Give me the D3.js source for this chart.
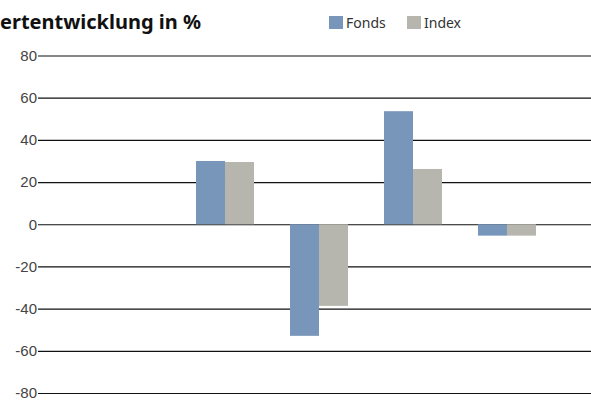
<!DOCTYPE html>
<html>
<head>
<meta charset="utf-8">
<script src="https://cdn.jsdelivr.net/npm/d3@7"></script>
<style>
  body { margin: 0; background: #fff; }
  svg { display: block; font-family: "Noto Sans", "Open Sans", sans-serif; }
</style>
</head>
<body>
<div id="chart"></div>
<script>
// Daten
const categories = ["P1", "P2", "P3", "P4", "P5"];
const fonds = [null, 30.0, -52.9, 53.6, -5.4];
const index = [null, 29.5, -38.7, 26.2, -5.4];
const yTicks = [-80, -60, -40, -20, 0, 20, 40, 60, 80];
const seriesNames = ["Fonds", "Index"];
const colors = ["#7896b9", "#b6b6ae"];

const width = 591, height = 400;

const svg = d3.select("#chart").append("svg")
    .attr("width", width)
    .attr("height", height);

const x = d3.scaleBand()
    .domain(categories)
    .range([40, 598])
    .paddingInner(0.383)
    .paddingOuter(0.66);

const x1 = d3.scaleBand()
    .domain(seriesNames)
    .range([0, x.bandwidth()]);

const y = d3.scaleLinear()
    .domain([-80, 80])
    .range([393, 55.5]);

// Gitterlinien + Beschriftung
const yAxis = d3.axisLeft(y)
    .tickValues(yTicks)
    .tickSize(-(width - 38))
    .tickPadding(2)
    .tickFormat(d => d);

svg.append("g")
    .attr("transform", "translate(38,0)")
    .call(yAxis)
    .call(g => g.select(".domain").remove())
    .call(g => g.selectAll(".tick line").attr("stroke", "#111").attr("stroke-width", 1.2))
    .call(g => g.selectAll(".tick text")
        .attr("x", -1)
        .attr("fill", "#444")
        .style("font-size", "15px"));

// Balken
const rows = categories.map((c, i) => ({ cat: c, values: [fonds[i], index[i]] }));

const groups = svg.append("g").selectAll("g")
    .data(rows)
    .enter().append("g")
    .attr("transform", d => "translate(" + x(d.cat) + ",0)");

groups.selectAll("rect")
    .data(d => d.values.map((v, j) => ({ name: seriesNames[j], v: v, color: colors[j] })).filter(d => d.v != null))
    .enter().append("rect")
    .attr("x", d => x1(d.name))
    .attr("width", x1.bandwidth())
    .attr("y", d => y(Math.max(0, d.v)))
    .attr("height", d => Math.abs(y(d.v) - y(0)))
    .attr("fill", d => d.color);

// Titel (im Original links angeschnitten, sichtbarer Teil)
svg.append("text")
    .attr("x", 0)
    .attr("y", 29)
    .style("font-size", "20px")
    .style("font-weight", "bold")
    .attr("fill", "#111")
    .text("ertentwicklung in %");

// Legende
const legend = svg.append("g");
const legendX = [329, 407];
seriesNames.forEach((name, i) => {
    legend.append("rect")
        .attr("x", legendX[i])
        .attr("y", 16)
        .attr("width", 14)
        .attr("height", 13)
        .attr("fill", colors[i]);
    legend.append("text")
        .attr("x", legendX[i] + 17)
        .attr("y", 28)
        .style("font-size", "14px")
        .attr("fill", "#333")
        .text(name);
});
</script>
</body>
</html>
